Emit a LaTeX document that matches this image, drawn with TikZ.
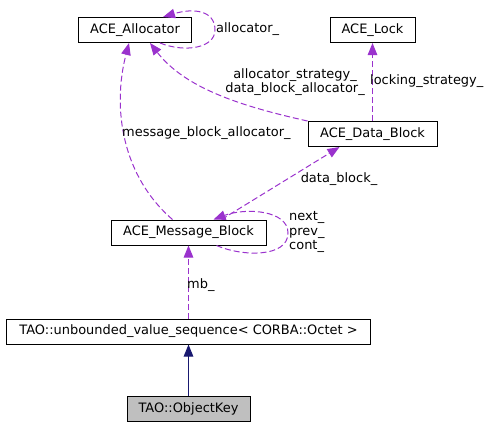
\documentclass[tikz,border=0pt]{standalone}
\usepackage{fontspec}
\setmainfont{DejaVu Sans}
\usepackage{tikz}
\usetikzlibrary{arrows.meta}

\definecolor{memberline}{RGB}{154,50,205}
\definecolor{inheritline}{RGB}{25,25,112}
\definecolor{selectedfill}{RGB}{191,191,191}

\begin{document}
\begin{tikzpicture}
	[x=1bp,y=1bp,>={Triangle[length=12bp,width=9.5bp]},
		font=\fontsize{13}{14.6}\selectfont,
		class node/.style={draw,line width=1bp,fill=white,minimum height=25bp,inner sep=0pt},
		member edge/.style={->,draw=memberline,line width=1bp,dash pattern=on 6bp off 3bp},
		inherit edge/.style={->,draw=inheritline,line width=1bp},
		edge label/.style={inner sep=0pt}]

	\useasboundingbox (0,0) rectangle (495,428);

	\node[class node, minimum width=113bp]    (alloc)   at (135,398)     {ACE\_Allocator};
	\node[class node, minimum width=85bp]     (lock)    at (372.5,398)   {ACE\_Lock};
	\node[class node, minimum width=129bp]    (data)    at (372.5,294)   {ACE\_Data\_Block};
	\node[class node, minimum width=155bp]    (msg)     at (188.5,195.5) {ACE\_Message\_Block};
	\node[class node, minimum width=363bp]    (seq)     at (188.5,96.5)  {TAO::unbounded\_value\_sequence\textless{} CORBA::Octet \textgreater};
	\node[class node, minimum width=123bp, fill=selectedfill] (key) at (188.5,19.5) {TAO::ObjectKey};

	% inheritance
	\draw[inherit edge] (key.north) -- (seq.south);

	% members
	\draw[member edge] (seq.north) -- (msg.south);
	\node[edge label, anchor=west] (mblabel) at (187,143) {mb\_};

	\draw[member edge] ([xshift=28bp]msg.south) .. controls +(25,-11) and +(0,-25) .. (288,195)
		.. controls +(0,23) and +(32,12) .. ([xshift=25bp]msg.north);
	\node[edge label, anchor=west, align=left] (looplabel) at (289,196) {next\_\\prev\_\\cont\_};

	\draw[member edge] ([xshift=33bp]msg.north) -- ([xshift=-33bp]data.south);
	\node[edge label] (datalabel) at (339,249) {data\_block\_};

	\draw[member edge] (data.north west) .. controls (240,322) and (185,340) .. ([xshift=15bp]alloc.south);
	\node[edge label, align=center] (stratlabel) at (295,346) {allocator\_strategy\_\\data\_block\_allocator\_};

	\draw[member edge] (data.north) -- (lock.south);
	\node[edge label, anchor=west] (locklabel) at (370,347) {locking\_strategy\_};

	\draw[member edge] ([xshift=-16bp]msg.north) .. controls (122,252) and (112,320) .. ([xshift=-6bp]alloc.south);
	\node[edge label, anchor=west] (msglabel) at (122,295) {message\_block\_allocator\_};

	\draw[member edge] ([xshift=25bp]alloc.south) .. controls +(25,-10) and +(0,-18) .. (215,398)
		.. controls +(0,20) and +(30,9) .. ([xshift=28bp]alloc.north);
	\node[edge label, anchor=west] (allolabel) at (216,399) {allocator\_};

\end{tikzpicture}
\end{document}
